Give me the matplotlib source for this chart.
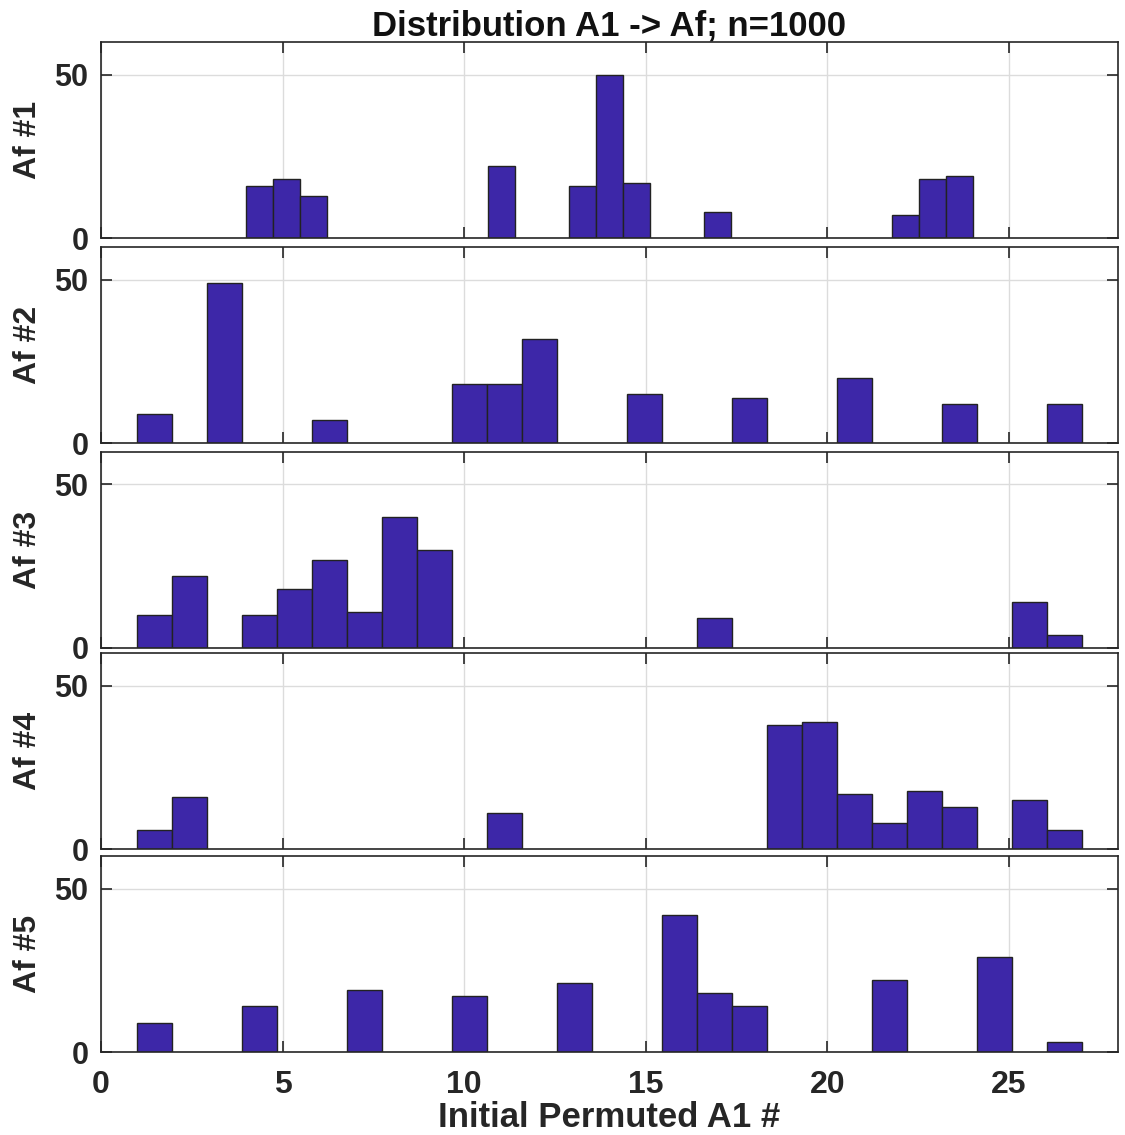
import numpy as np
import matplotlib
matplotlib.use("Agg")
import matplotlib.pyplot as plt

plt.rcParams['font.family'] = ['Liberation Sans', 'DejaVu Sans']
plt.rcParams['font.weight'] = 'bold'

# ---- data (counts per bin, 27 equal-width bins over each panel's range) ----
panel_labels = ["Af #1", "Af #2", "Af #3", "Af #4", "Af #5"]
bin_ranges = [(4, 24), (1, 27), (1, 27), (1, 27), (1, 27)]
n_bins = 27

af1_counts = [16, 18, 13, 0, 0, 0, 0, 0, 0, 22, 0, 0, 16, 50, 17, 0, 0, 8,
              0, 0, 0, 0, 0, 0, 7, 18, 19]
af2_counts = [9, 0, 49, 0, 0, 7, 0, 0, 0, 18, 18, 32, 0, 0, 15, 0, 0, 14,
              0, 0, 20, 0, 0, 12, 0, 0, 12]
af3_counts = [10, 22, 0, 10, 18, 27, 11, 40, 30, 0, 0, 0, 0, 0, 0, 0, 9, 0,
              0, 0, 0, 0, 0, 0, 0, 14, 4]
af4_counts = [6, 16, 0, 0, 0, 0, 0, 0, 0, 0, 11, 0, 0, 0, 0, 0, 0, 0,
              38, 39, 17, 8, 18, 13, 0, 15, 6]
af5_counts = [9, 0, 0, 14, 0, 0, 19, 0, 0, 17, 0, 0, 21, 0, 0, 42, 18, 14,
              0, 0, 0, 22, 0, 0, 29, 0, 3]
all_counts = [af1_counts, af2_counts, af3_counts, af4_counts, af5_counts]

x_ticks = [0, 5, 10, 15, 20, 25]
y_ticks = [0, 50]
title = "Distribution A1 -> Af; n=1000"
xlabel = "Initial Permuted A1 #"

# ---- figure ----
W, H = 1125, 1135
fig = plt.figure(figsize=(W / 100, H / 100), dpi=100)

ax_left = 101
ax_right = 1118
bottoms = [238.3, 443.3, 647.7, 849.3, 1052]
ax_h = 196

face = '#3d27a8'
edge = '#222222'
axcol = '#262626'

axes = []
for i, (lab, rng, counts) in enumerate(zip(panel_labels, bin_ranges, all_counts)):
    b = bottoms[i]
    rect = [ax_left / W, 1 - b / H, (ax_right - ax_left) / W, ax_h / H]
    ax = fig.add_axes(rect)
    edges = np.linspace(rng[0], rng[1], n_bins + 1)
    counts = np.asarray(counts, dtype=float)
    widths = np.diff(edges)
    m = counts > 0
    ax.bar(edges[:-1][m], counts[m], width=widths[m], align='edge',
           color=face, edgecolor=edge, linewidth=1.0, zorder=3)
    ax.set_xlim(0, 28)
    ax.set_ylim(0, 60)
    ax.set_xticks(x_ticks)
    ax.set_yticks(y_ticks)
    ax.grid(True, color='#dcdcdc', linewidth=1.0, zorder=0)
    ax.set_axisbelow(True)
    ax.tick_params(direction='in', length=8, width=1.2, color=axcol,
                   top=True, right=True, labelsize=22, labelcolor='#262626')
    ax.tick_params(axis='y', pad=9)
    ax.tick_params(axis='x', pad=13, labelsize=23)
    for sp in ax.spines.values():
        sp.set_color(axcol)
        sp.set_linewidth(1.2)
        sp.set_zorder(4)
    ax.set_ylabel(lab, fontsize=23, fontweight='bold', color='#262626', labelpad=8)
    if i < 4:
        ax.tick_params(labelbottom=False)
    for t in ax.get_xticklabels() + ax.get_yticklabels():
        t.set_fontweight('bold')
    axes.append(ax)

axes[0].set_title(title, fontsize=25, fontweight='bold', color='#111111', pad=3)
axes[-1].set_xlabel(xlabel, fontsize=25, fontweight='bold', color='#262626', labelpad=0.5)

fig.savefig("out.png", dpi=100)
